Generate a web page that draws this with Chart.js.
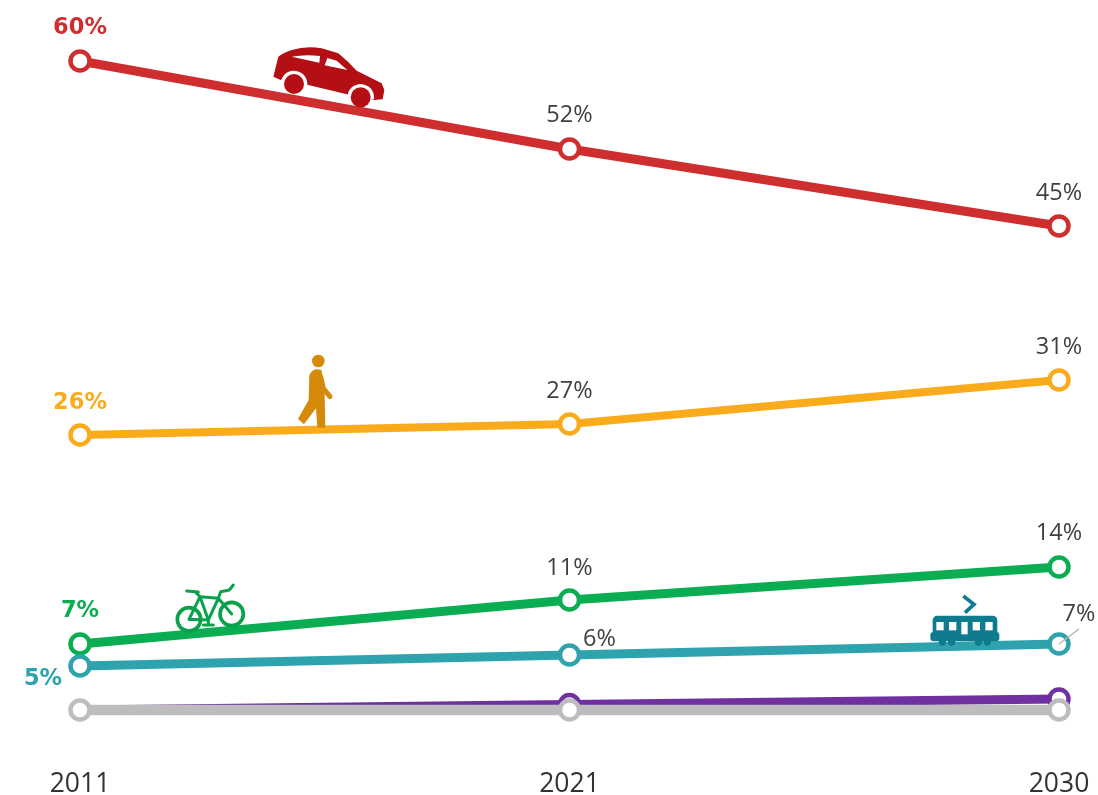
<!DOCTYPE html>
<html>
<head>
<meta charset="utf-8">
<style>
  body { margin: 0; background: #fff; }
  canvas { display: block; }
</style>
<script src="https://cdn.jsdelivr.net/npm/chart.js@4"></script>
</head>
<body>
<canvas id="grafico" width="1098" height="795"></canvas>
<script>
// Values, in percent
const years = ['2011', '2021', '2030'];
const car = [60, 52, 45];
const walk = [26, 27, 31];
const transit = [5, 6, 7];
const bike = [7, 11, 14];
const other = [1, 1, 1];
const purple = [1, 1.5, 2];

// Label placement relative to the point, [dx, dy] per year
const carLabels = [[0, -33], [0, -34], [0, -33]];
const walkLabels = [[0, -32], [0, -33], [0, -33]];
const bikeLabels = [[0, -33], [0, -32], [0, -34]];
const transitLabels = [[-37, 13], [30, -16], [20, -30]];

const font = '"Open Sans", sans-serif';

const series = [
  { label: 'Car', data: car, color: '#cf2e2e', width: 9, textColor: '#cf2e2e', offsets: carLabels },
  { label: 'Walk', data: walk, color: '#f9ab1c', width: 8, textColor: '#f9ab1c', offsets: walkLabels },
  { label: 'Public transport', data: transit, color: '#2fa3ad', width: 9, textColor: '#2fa3ad', offsets: transitLabels },
  { label: 'Bike', data: bike, color: '#0aad52', width: 9, textColor: '#0aad52', offsets: bikeLabels },
  { label: 'Other', data: other, color: '#bdbdbd', width: 10.5 },
  // its first point sits fully behind the grey one
  { label: 'Motorbike', data: purple, color: '#7030a0', width: 9, radius: [0, 9.5, 9.5] }
];

// Value labels: first year is bold and coloured, the others dark grey
const valueLabels = {
  id: 'valueLabels',
  afterDatasetsDraw(chart) {
    const ctx = chart.ctx;
    ctx.save();
    ctx.textAlign = 'center';
    ctx.textBaseline = 'middle';
    series.forEach((s, i) => {
      if (!s.offsets) return;
      chart.getDatasetMeta(i).data.forEach((pt, j) => {
        ctx.font = j === 0 ? 'bold 22.5px "DejaVu Sans", sans-serif' : '23.5px ' + font;
        ctx.fillStyle = j === 0 ? s.textColor : '#404040';
        ctx.fillText(s.data[j] + '%', pt.x + s.offsets[j][0], pt.y + s.offsets[j][1]);
      });
    });
    // leader line of the last transit label
    const p = chart.getDatasetMeta(2).data[2];
    ctx.strokeStyle = '#b5b5b5';
    ctx.lineWidth = 1.5;
    ctx.beginPath();
    ctx.moveTo(p.x, p.y);
    ctx.lineTo(p.x + 20, p.y - 15);
    ctx.stroke();
    ctx.restore();
  }
};

function drawCar(ctx) {
  ctx.save();
  ctx.translate(250, 30);
  ctx.scale(1 / 3, 1 / 3);
  ctx.fillStyle = '#b30f14';
  ctx.fill(new Path2D('M70 140 L85 80 Q100 68 125 60 Q170 46 215 55 L265 70 Q295 95 320 122 L395 160 L403 180 L398 208 L372 210 L300 195 L175 165 L92 150 Z'));
  ctx.fillStyle = '#fff';
  ctx.fill(new Path2D('M125 80 Q165 72 210 78 L208 98 Z'));
  ctx.fill(new Path2D('M232 84 L260 92 L292 120 L224 106 Z'));
  [[132, 162, 30], [332, 202, 30]].forEach(w => {
    ctx.fillStyle = '#fff';
    ctx.beginPath();
    ctx.arc(w[0], w[1], w[2] + 10, Math.PI * 0.95, Math.PI * 2.05);
    ctx.fill();
    ctx.fillStyle = '#b30f14';
    ctx.beginPath();
    ctx.arc(w[0], w[1], w[2], 0, Math.PI * 2);
    ctx.fill();
  });
  ctx.restore();
}

function drawWalker(ctx) {
  ctx.save();
  ctx.translate(280, 345);
  ctx.scale(1 / 3, 1 / 3);
  ctx.fillStyle = ctx.strokeStyle = '#d68a0a';
  ctx.lineCap = 'round';
  ctx.lineJoin = 'round';
  ctx.beginPath();
  ctx.arc(115, 48, 19, 0, Math.PI * 2);
  ctx.fill();
  ctx.fill(new Path2D('M88 90 Q100 66 125 76 L134 150 L136 248 L112 248 L108 190 L72 238 L54 222 L86 165 Z'));
  ctx.lineWidth = 15;
  ctx.beginPath();
  ctx.moveTo(122, 95);
  ctx.lineTo(130, 130);
  ctx.lineTo(150, 155);
  ctx.stroke();
  ctx.restore();
}

function drawBike(ctx) {
  ctx.save();
  ctx.translate(0, 570);
  ctx.scale(1 / 3, 1 / 3);
  ctx.strokeStyle = '#0aa14c';
  ctx.lineWidth = 11;
  ctx.lineCap = 'round';
  ctx.lineJoin = 'round';
  ctx.beginPath();
  ctx.arc(567, 148, 35, 0, Math.PI * 2);
  ctx.moveTo(730, 132);
  ctx.arc(695, 132, 35, 0, Math.PI * 2);
  ctx.stroke();
  ctx.lineWidth = 9;
  ctx.stroke(new Path2D('M567 148 L600 80 L655 85 L695 132 M600 80 L625 150 L655 85 M567 148 L625 150 M560 63 L595 66 M585 65 L600 80 M655 85 L662 65 L688 60 L700 45 M610 165 L640 165 M625 150 L625 165'));
  ctx.restore();
}

function drawTram(ctx) {
  ctx.save();
  ctx.translate(900, 570);
  ctx.scale(1 / 3, 1 / 3);
  ctx.fillStyle = ctx.strokeStyle = '#0f7b8e';
  ctx.beginPath();
  ctx.roundRect(98, 137, 194, 65, 14);
  ctx.fill();
  ctx.beginPath();
  ctx.roundRect(91, 186, 207, 28, 10);
  ctx.fill();
  [[127, 216], [155, 216], [235, 216], [262, 216]].forEach(w => {
    ctx.beginPath();
    ctx.arc(w[0], w[1], 11, 0, Math.PI * 2);
    ctx.fill();
  });
  ctx.lineWidth = 11;
  ctx.stroke(new Path2D('M190 78 L222 103 L195 128'));
  ctx.fillStyle = '#fff';
  [[109, 156, 22, 25], [147, 156, 22, 25], [184, 156, 19, 37], [218, 156, 22, 25], [256, 156, 22, 25]].forEach(r => {
    ctx.fillRect(r[0], r[1], r[2], r[3]);
  });
  ctx.restore();
}

const icons = {
  id: 'icons',
  afterDatasetsDraw(chart) {
    drawCar(chart.ctx);
    drawWalker(chart.ctx);
    drawBike(chart.ctx);
    drawTram(chart.ctx);
  }
};

new Chart(document.getElementById('grafico'), {
  type: 'line',
  data: {
    labels: years,
    datasets: series.map(s => ({
      label: s.label,
      data: s.data,
      borderColor: s.color,
      borderWidth: s.width,
      tension: 0,
      clip: false,
      pointRadius: s.radius || 9.5,
      pointBorderWidth: 4.5,
      pointBorderColor: s.color,
      pointBackgroundColor: '#fff'
    }))
  },
  options: {
    responsive: false,
    animation: false,
    layout: { padding: { top: 61, left: 80, right: 39, bottom: 0 } },
    plugins: { legend: { display: false }, tooltip: { enabled: false } },
    scales: {
      y: { display: false, min: 0, max: 60 },
      x: {
        offset: false,
        grid: { display: false },
        border: { display: false },
        // the tick padding otherwise counts as side padding too
        afterFit(scale) {
          scale.height = 74;
          scale.paddingLeft = 0;
          scale.paddingRight = 0;
        },
        ticks: {
          autoSkip: false,
          maxRotation: 0,
          padding: 40,
          color: '#333333',
          font: { family: font, size: 26.5 }
        }
      }
    }
  },
  plugins: [valueLabels, icons]
});
</script>
</body>
</html>
